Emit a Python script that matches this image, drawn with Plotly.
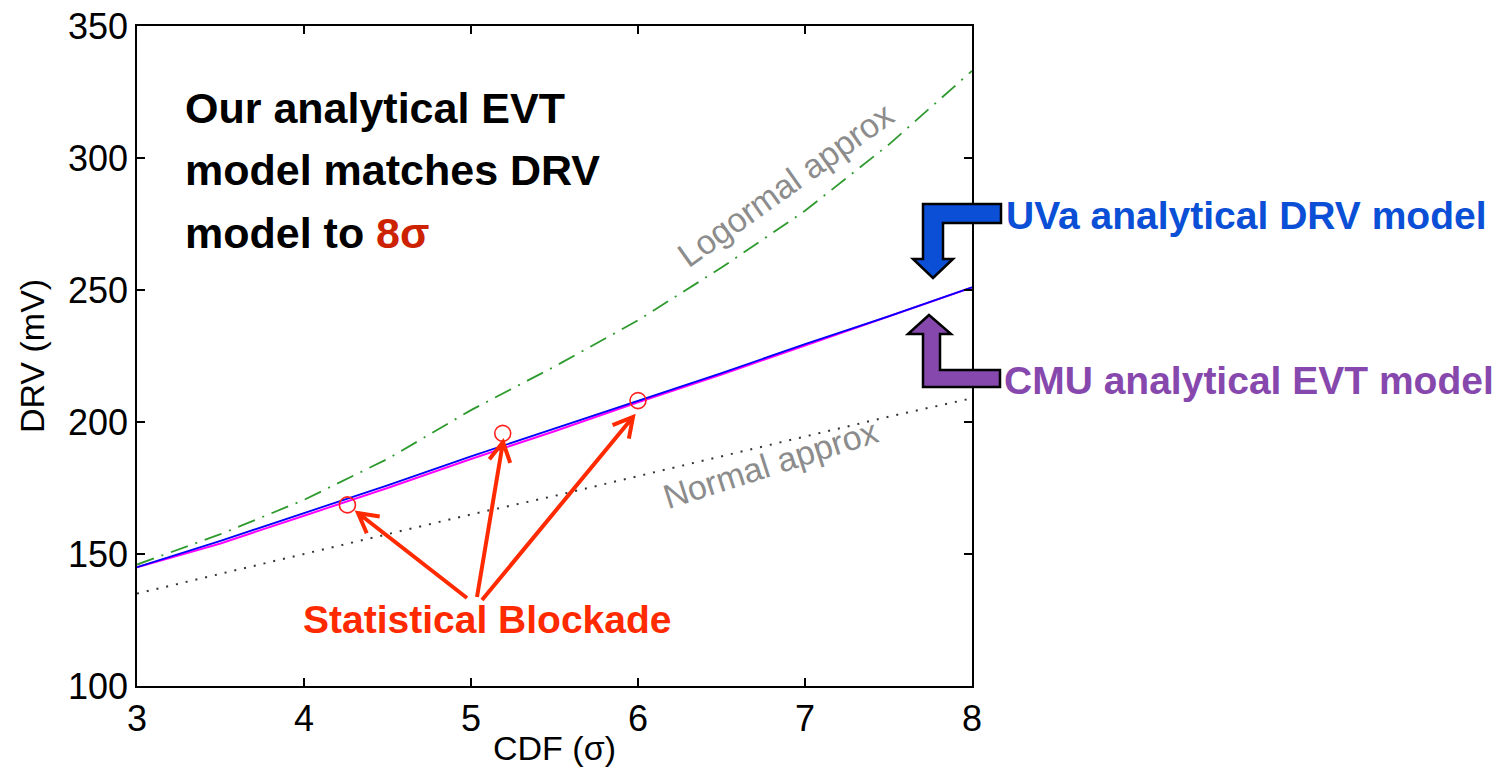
import numpy as np
import plotly.graph_objects as go

# ---------------- data ----------------
cdf_sigma = [3.0, 3.5, 4.0, 4.5, 5.0, 5.5, 6.0, 6.5, 7.0, 7.5, 8.0]
uva_drv = [145, 155, 165.5, 176, 187, 197.5, 208, 218.5, 229.5, 240, 251]
cmu_evt = [145, 154, 164.5, 175, 186, 196.5, 207.5, 218, 229, 240, 251]
lognormal_approx = [146, 157.5, 170.5, 186, 204.5, 221, 238.5, 258.5, 280, 305, 333]
normal_approx = [135, 142.5, 150, 157.5, 165, 172, 179.5, 187, 194.5, 202, 209]

blockade_sigma = [4.26, 5.19, 6.0]
blockade_drv = [168.6, 195.7, 208.1]

x_ticks = [3, 4, 5, 6, 7, 8]
y_ticks = [100, 150, 200, 250, 300, 350]

title_lines = ["Our analytical EVT", "model matches DRV",
               "model to <span style='color:#CC2200'>8σ</span>"]

# ---------------- layout geometry ----------------
W, H = 1500, 767
L, R, T, B = 137, 972, 26, 686


def px(x):
    return (x - L) / (R - L)


def py(y):
    return (B - y) / (B - T)


fig = go.Figure()

fig.add_trace(go.Scatter(x=cdf_sigma, y=normal_approx, mode="lines",
                         line=dict(color="#333333", width=2, dash="2px,8px"),
                         name="Normal approx", showlegend=False))
fig.add_trace(go.Scatter(x=cdf_sigma, y=lognormal_approx, mode="lines",
                         line=dict(color="#2E9A2E", width=1.8, dash="18px,8px,2px,8px"),
                         name="Lognormal approx", showlegend=False))
fig.add_trace(go.Scatter(x=cdf_sigma, y=cmu_evt, mode="lines",
                         line=dict(color="#FF00FF", width=2),
                         name="CMU analytical EVT model", showlegend=False))
fig.add_trace(go.Scatter(x=cdf_sigma, y=uva_drv, mode="lines",
                         line=dict(color="#0000FF", width=1.8),
                         name="UVa analytical DRV model", showlegend=False))
fig.add_trace(go.Scatter(x=blockade_sigma, y=blockade_drv, mode="markers",
                         marker=dict(symbol="circle-open", size=16, color="#FF2020",
                                     line=dict(width=1.6, color="#FF2020")),
                         name="Statistical Blockade", showlegend=False))

shapes = []


def poly_path(pts):
    return "M " + " L ".join(f"{px(a):.5f},{py(b):.5f}" for a, b in pts) + " Z"


blue_arrow = [(1001, 204), (923, 204), (923, 259), (913, 259), (933, 278),
              (953, 259), (943, 259), (943, 223), (1001, 223)]
purple_arrow = [(929, 315), (951, 334), (940, 334), (940, 370), (1000, 370),
                (1000, 387), (923, 387), (923, 334), (908, 334)]
shapes.append(dict(type="path", xref="paper", yref="paper", path=poly_path(blue_arrow),
                   fillcolor="#0A4FD6", line=dict(color="black", width=2.5)))
shapes.append(dict(type="path", xref="paper", yref="paper", path=poly_path(purple_arrow),
                   fillcolor="#8748AE", line=dict(color="black", width=2.5)))

# red pointer arrows from the "Statistical Blockade" label to the points
arrows = [((467, 598), (358, 513)), ((477, 597), (503, 442)), ((482, 600), (633, 417))]
for (tx, ty), (hx, hy) in arrows:
    ang = np.arctan2(ty - hy, tx - hx)
    arm = 22
    a1 = (hx + arm * np.cos(ang + 0.5), hy + arm * np.sin(ang + 0.5))
    a2 = (hx + arm * np.cos(ang - 0.5), hy + arm * np.sin(ang - 0.5))
    path = (f"M {px(tx):.5f},{py(ty):.5f} L {px(hx):.5f},{py(hy):.5f} "
            f"M {px(a1[0]):.5f},{py(a1[1]):.5f} L {px(hx):.5f},{py(hy):.5f} "
            f"L {px(a2[0]):.5f},{py(a2[1]):.5f}")
    shapes.append(dict(type="path", xref="paper", yref="paper", path=path,
                       line=dict(color="#FF2A00", width=4)))

bold = "Liberation Sans, Arial, sans-serif"
regular = "Liberation Sans, Arial, sans-serif"

annotations = []
for i, line in enumerate(title_lines):
    annotations.append(dict(text=f"<b>{line}</b>", x=px(183), y=py(107.5 + 62.5 * i),
                            xref="paper", yref="paper", xanchor="left", yanchor="middle",
                            align="left", showarrow=False,
                            font=dict(family=bold, size=43, color="black")))

annotations += [
    dict(text="<b>UVa analytical DRV model</b>", x=px(1004), y=py(215), xref="paper", yref="paper",
         xanchor="left", yanchor="middle", showarrow=False,
         font=dict(family=bold, size=39, color="#0A4FD6")),
    dict(text="<b>CMU analytical EVT model</b>", x=px(1002), y=py(380), xref="paper", yref="paper",
         xanchor="left", yanchor="middle", showarrow=False,
         font=dict(family=bold, size=39, color="#8748AE")),
    dict(text="<b>Statistical Blockade</b>", x=px(487), y=py(619), xref="paper", yref="paper",
         xanchor="center", yanchor="middle", showarrow=False,
         font=dict(family=bold, size=39, color="#FF2A00")),
    dict(text="Logormal approx", x=px(785), y=py(185), xref="paper", yref="paper",
         xanchor="center", yanchor="middle", showarrow=False, textangle=-35.5,
         font=dict(family=regular, size=34, color="#8C8C8C")),
    dict(text="Normal approx", x=px(770), y=py(464), xref="paper", yref="paper",
         xanchor="center", yanchor="middle", showarrow=False, textangle=-17.8,
         font=dict(family=regular, size=34, color="#8C8C8C")),
]

axis_common = dict(showline=True, linecolor="black", linewidth=1.5, mirror="ticks",
                   ticks="inside", ticklen=8, tickwidth=1.5, tickcolor="black",
                   showgrid=False, zeroline=False,
                   tickfont=dict(family=regular, size=36, color="black"))

fig.update_layout(
    width=W, height=H,
    margin=dict(l=L, r=W - R, t=T, b=H - B, pad=0),
    paper_bgcolor="white", plot_bgcolor="white",
    xaxis=dict(range=[3, 8], tickvals=x_ticks, ticktext=[str(v) for v in x_ticks],
               title=dict(text="CDF (σ)", font=dict(family=regular, size=34, color="black"),
                          standoff=4),
               **axis_common),
    yaxis=dict(range=[100, 350], tickvals=y_ticks, ticktext=[str(v) for v in y_ticks],
               title=dict(text="DRV (mV)", font=dict(family=regular, size=34, color="black"),
                          standoff=13),
               **axis_common),
    shapes=shapes,
    annotations=annotations,
    showlegend=False,
)
fig.update_xaxes(automargin=False)
fig.update_yaxes(automargin=False)

fig.write_html("out.html")
